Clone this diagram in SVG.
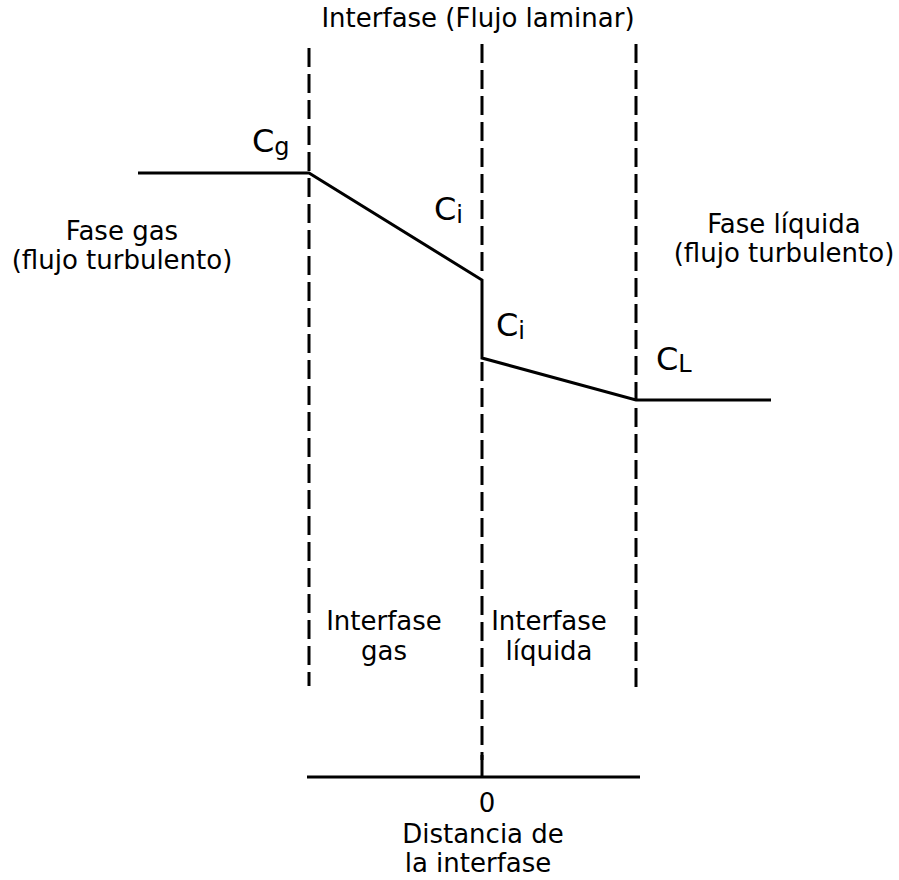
<svg xmlns="http://www.w3.org/2000/svg" width="899" height="880" viewBox="0 0 899 880">
<style>
.t{font-family:"DejaVu Sans",Verdana,sans-serif;font-size:26px;fill:#000}
.c{font-family:"DejaVu Sans",Verdana,sans-serif;font-size:32px;fill:#000}
.s{font-size:24px}
.d{stroke:#000;stroke-width:3;stroke-dasharray:19 7;fill:none}
.l{stroke:#000;stroke-width:3;fill:none}
</style>
<rect width="899" height="880" fill="#fff"/>
<g id="connectors">
<line class="d" x1="309" y1="48" x2="309" y2="686"/>
<line class="d" x1="482" y1="44" x2="482" y2="276"/>
<line class="d" x1="482" y1="362" x2="482" y2="760"/>
<line class="d" x1="636" y1="44" x2="636" y2="688"/>
<polyline class="l" points="138,173 309,173 482,280 482,358 636,400 771,400"/>
<line class="l" x1="307" y1="777" x2="640" y2="777"/>
<line class="l" x1="482" y1="755" x2="482" y2="777"/>
</g>
<g id="title"><text class="t" x="478" y="27" text-anchor="middle">Interfase (Flujo laminar)</text></g>
<g id="cg"><text class="c" x="252" y="152">C<tspan class="s" dy="3">g</tspan></text></g>
<g id="ci1"><text class="c" x="434" y="220">C<tspan class="s" dy="3">i</tspan></text></g>
<g id="ci2"><text class="c" x="496" y="336">C<tspan class="s" dy="3">i</tspan></text></g>
<g id="cl"><text class="c" x="656" y="370">C<tspan class="s" dy="2">L</tspan></text></g>
<g id="fasegas"><text class="t" x="122" y="240" text-anchor="middle">Fase gas</text><text class="t" x="122" y="269" text-anchor="middle">(flujo turbulento)</text></g>
<g id="faseliq"><text class="t" x="784" y="233" text-anchor="middle">Fase líquida</text><text class="t" x="784" y="262" text-anchor="middle">(flujo turbulento)</text></g>
<g id="intgas"><text class="t" x="384" y="630" text-anchor="middle">Interfase</text><text class="t" x="384" y="660" text-anchor="middle">gas</text></g>
<g id="intliq"><text class="t" x="549" y="630" text-anchor="middle">Interfase</text><text class="t" x="549" y="660" text-anchor="middle">líquida</text></g>
<g id="xlabel"><text class="t" x="487" y="812" text-anchor="middle">0</text><text class="t" x="483" y="843" text-anchor="middle">Distancia de</text><text class="t" x="478" y="872" text-anchor="middle">la interfase</text></g>
</svg>
